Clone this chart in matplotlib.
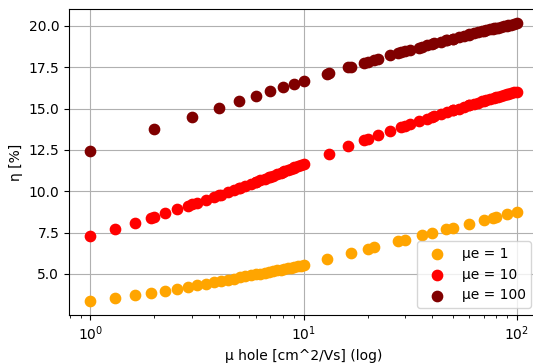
import matplotlib
matplotlib.use('Agg')
import matplotlib.pyplot as plt

# mu_e = 1
mu_h_1 = [1, 1.31, 1.62, 1.93, 2.24, 2.55, 2.86, 3.17, 3.48, 3.79, 4.10, 4.41,
          4.72, 5.03, 5.34, 5.66, 5.97, 6.28, 6.59, 6.90, 7.21, 7.52, 7.83, 8.14,
          8.45, 8.76, 9.07, 9.38, 9.69, 10,
          12.9, 16.7, 20, 21.5, 27.8, 30, 35.9, 40, 46.4, 50, 59.9, 70, 77.4, 80,
          90, 100]
eta_1 = [3.36, 3.55, 3.71, 3.86, 4.00, 4.12, 4.23, 4.33, 4.42, 4.50, 4.58, 4.65,
         4.72, 4.79, 4.85, 4.91, 4.97, 5.02, 5.08, 5.13, 5.17, 5.22, 5.26, 5.31,
         5.35, 5.39, 5.43, 5.47, 5.50, 5.54,
         5.90, 6.26, 6.51, 6.61, 6.97, 7.08, 7.33, 7.48, 7.69, 7.80, 8.05, 8.26,
         8.40, 8.45, 8.61, 8.75]

# mu_e = 10
mu_h_10 = [1, 1.31, 1.62, 1.93, 2, 2.24, 2.55, 2.86, 3, 3.17, 3.48, 3.79, 4,
           4.10, 4.41, 4.72, 5, 5.03, 5.34, 5.66, 5.97, 6, 6.28, 6.59, 6.90, 7,
           7.21, 7.52, 7.83, 8, 8.14, 8.45, 8.76, 9, 9.07, 9.38, 9.69, 10,
           13.1, 16.2, 19.3, 20, 22.4, 25.5, 28.6, 30, 31.7, 34.8, 37.9, 40, 41,
           44.1, 47.2, 50, 50.3, 53.4, 56.6, 59.7, 60, 62.8, 65.9, 69, 70, 72.1,
           75.2, 78.3, 80, 81.4, 84.5, 87.6, 90, 90.7, 93.8, 96.9, 100]
eta_10 = [7.31, 7.74, 8.10, 8.40, 8.46, 8.67, 8.90, 9.11, 9.20, 9.30, 9.48, 9.65,
          9.75, 9.80, 9.94, 10.08, 10.19, 10.21, 10.33, 10.45, 10.56, 10.57,
          10.66, 10.76, 10.86, 10.89, 10.95, 11.04, 11.13, 11.17, 11.21, 11.29,
          11.37, 11.43, 11.45, 11.52, 11.59, 11.66,
          12.26, 12.71, 13.08, 13.15, 13.38, 13.63, 13.86, 13.95, 14.05, 14.23,
          14.39, 14.49, 14.53, 14.66, 14.79, 14.89, 14.90, 15.00, 15.10, 15.19,
          15.20, 15.28, 15.36, 15.44, 15.46, 15.51, 15.58, 15.64, 15.68, 15.71,
          15.77, 15.82, 15.87, 15.88, 15.93, 15.98, 16.03]

# mu_e = 100
mu_h_100 = [1, 2, 3, 4, 5, 6, 7, 8, 9, 10,
            12.9, 13.1, 16.2, 16.7, 19.3, 20, 21.5, 22.4, 25.5, 27.8, 28.6, 30,
            31.7, 34.8, 35.9, 37.9, 40, 41, 44.1, 46.4, 47.2, 50, 50.3, 53.4,
            56.6, 59.7, 60, 62.8, 65.9, 69, 70, 72.1, 75.2, 77.4, 78.3, 80, 81.4,
            84.5, 87.6, 90, 90.7, 93.8, 96.9, 100]
eta_100 = [12.44, 13.75, 14.51, 15.03, 15.45, 15.77, 16.05, 16.28, 16.48, 16.67,
           17.11, 17.14, 17.49, 17.54, 17.78, 17.83, 17.95, 18.02, 18.22, 18.35,
           18.40, 18.47, 18.55, 18.69, 18.74, 18.82, 18.90, 18.94, 19.04, 19.12,
           19.14, 19.22, 19.23, 19.32, 19.40, 19.47, 19.48, 19.54, 19.61, 19.67,
           19.69, 19.73, 19.79, 19.83, 19.84, 19.87, 19.89, 19.94, 19.99, 20.02,
           20.03, 20.08, 20.12, 20.16]

series = [
    (mu_h_1, eta_1, 'orange', 'µe = 1'),
    (mu_h_10, eta_10, 'red', 'µe = 10'),
    (mu_h_100, eta_100, '#800000', 'µe = 100'),
]

fig = plt.figure(figsize=(5.33, 3.63), dpi=100)
# right edge of the axes sits just outside the canvas, like the reference
ax = fig.add_axes([69 / 533, 48 / 363, 469 / 533, 305.7 / 363])

for x, y, color, label in series:
    ax.scatter(x, y, s=55, color=color, label=label, zorder=3)

ax.set_xscale('log')
ax.grid(True, zorder=0)
ax.set_axisbelow(True)
ax.set_xlabel('µ hole [cm^2/Vs] (log)')
ax.set_ylabel('η [%]')
ax.legend(loc='lower right')

fig.savefig('out.png', dpi=100)
